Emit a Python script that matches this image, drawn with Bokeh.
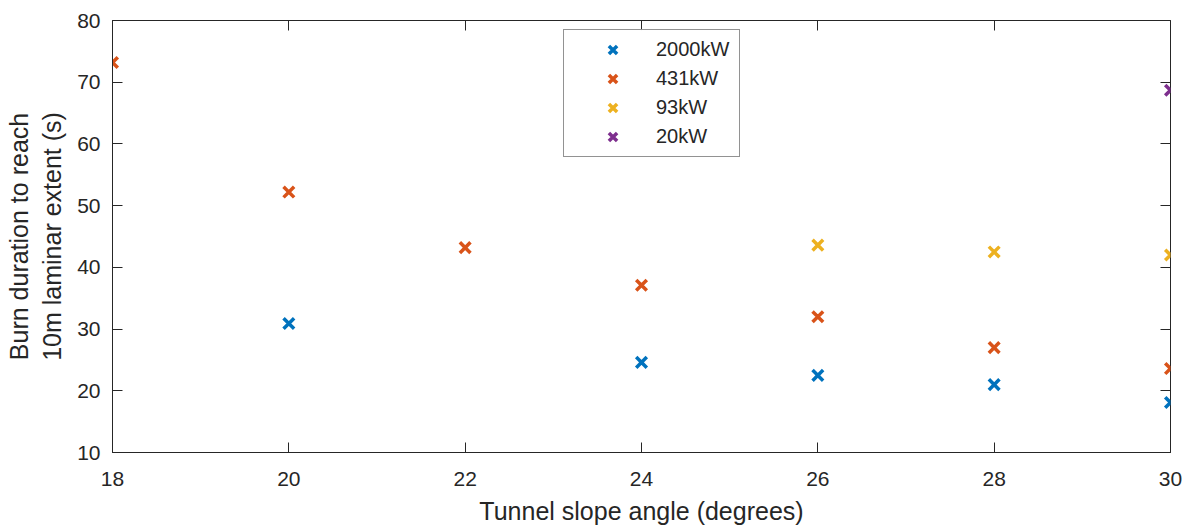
from bokeh.plotting import figure
from bokeh.models import LinearAxis, FixedTicker, Range1d, Legend
from bokeh.embed import file_html
from bokeh.resources import INLINE

# data
x_2000 = [20, 24, 26, 28, 30]
y_2000 = [30.9, 24.6, 22.5, 21.0, 18.1]
x_431 = [18, 20, 22, 24, 26, 28, 30]
y_431 = [73.2, 52.2, 43.2, 37.1, 32.0, 27.0, 23.6]
x_93 = [26, 28, 30]
y_93 = [43.6, 42.5, 42.0]
x_20 = [30]
y_20 = [68.7]
series_labels = ["2000kW", "431kW", "93kW", "20kW"]
x_ticks = [18, 20, 22, 24, 26, 28, 30]
y_ticks = [10, 20, 30, 40, 50, 60, 70, 80]

colors = ["#0072BD", "#D95319", "#EDB120", "#7E2F8E"]
FONT = "Liberation Sans"
INK = "#262626"

p = figure(width=1184, height=528, output_backend="svg", toolbar_location=None,
           x_range=Range1d(18, 30), y_range=Range1d(10, 80),
           min_border_left=112, min_border_top=20, min_border_right=14, min_border_bottom=76)
p.grid.visible = False
p.outline_line_color = INK
p.outline_line_width = 1
p.background_fill_color = "white"
p.border_fill_color = "white"

for ax in (p.xaxis[0], p.yaxis[0]):
    ax.major_tick_in = 10
    ax.major_tick_out = 0
    ax.minor_tick_line_color = None
    ax.axis_line_color = INK
    ax.major_tick_line_color = INK
    ax.major_label_text_font = FONT
    ax.major_label_text_font_size = "21px"
    ax.major_label_text_color = INK
    ax.axis_label_text_font = FONT
    ax.axis_label_text_font_size = "25px"
    ax.axis_label_text_font_style = "normal"
    ax.axis_label_text_color = INK

p.xaxis[0].ticker = FixedTicker(ticks=x_ticks)
p.yaxis[0].ticker = FixedTicker(ticks=y_ticks)
p.xaxis[0].axis_label = "Tunnel slope angle (degrees)"
p.yaxis[0].axis_label = "Burn duration to reach\n10m laminar extent (s)"
p.xaxis[0].major_label_standoff = 19
p.yaxis[0].major_label_standoff = 12
p.xaxis[0].axis_label_standoff = 8
p.yaxis[0].axis_label_standoff = 8

top = LinearAxis(ticker=FixedTicker(ticks=x_ticks), major_tick_in=10, major_tick_out=0,
                 minor_tick_line_color=None, axis_line_color=None,
                 major_tick_line_color=INK,
                 major_label_overrides={t: "" for t in x_ticks},
                 major_label_standoff=0)
right = LinearAxis(ticker=FixedTicker(ticks=y_ticks), major_tick_in=10, major_tick_out=0,
                   minor_tick_line_color=None, axis_line_color=None,
                   major_tick_line_color=INK,
                   major_label_overrides={t: "" for t in y_ticks},
                   major_label_standoff=0)
p.add_layout(top, "above")
p.add_layout(right, "right")

xs = [x_2000, x_431, x_93, x_20]
ys = [y_2000, y_431, y_93, y_20]
items = []
for xv, yv, c, lab in zip(xs, ys, colors, series_labels):
    r = p.scatter(xv, yv, marker="x", size=15, line_width=3.5, line_color=c)
    items.append((lab, [r]))

legend = Legend(items=items, location=(451, 295))
legend.label_text_font = FONT
legend.label_text_font_size = "20px"
legend.label_text_color = INK
legend.border_line_color = INK
legend.border_line_width = 1
legend.padding = 5
legend.spacing = 0
legend.glyph_width = 87
legend.glyph_height = 29
legend.label_height = 29
legend.label_width = 78
legend.label_standoff = 0
legend.margin = 0
p.add_layout(legend, "center")

open("out.html", "w").write(file_html(p, INLINE))
